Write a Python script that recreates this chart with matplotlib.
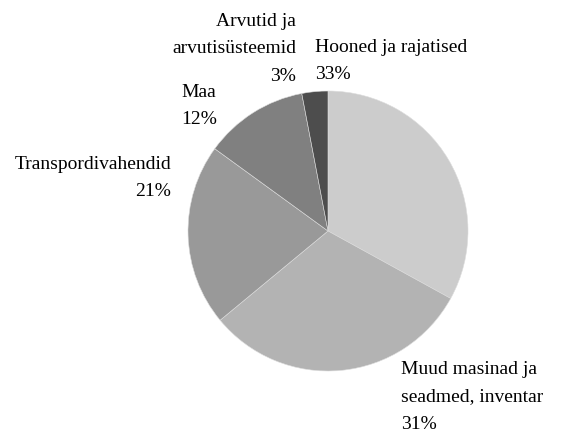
import matplotlib
matplotlib.use("Agg")
import matplotlib.pyplot as plt

categories = ["Hooned ja rajatised", "Muud masinad ja\nseadmed, inventar", "Transpordivahendid", "Maa", "Arvutid ja\narvutisüsteemid"]
values = [33, 31, 21, 12, 3]
colors = ["#cccccc", "#b3b3b3", "#999999", "#808080", "#4d4d4d"]

W, H = 564, 433
fig = plt.figure(figsize=(W / 100, H / 100), dpi=100)
cx, cy, r = 328, 231, 140
ax = fig.add_axes([(cx - r) / W, (H - cy - r) / H, 2 * r / W, 2 * r / H])
ax.pie(values, colors=colors, startangle=90, counterclock=False, radius=1,
       wedgeprops=dict(edgecolor="#dddddd", linewidth=0.4))
ax.set_xlim(-1, 1)
ax.set_ylim(-1, 1)
ax.set_aspect("equal")
ax.axis("off")

# label anchor positions in pixels (x, y top, horizontal alignment)
label_pos = [(315, 39, "left"), (401, 361, "left"), (171, 156, "right"), (181, 84, "left"), (296, 13, "right")]
for cat, val, (x, y, ha) in zip(categories, values, label_pos):
    fig.text(x / W, 1 - y / H, f"{cat}\n{val}%", ha=ha, va="top", multialignment=ha,
             fontsize=14, family="Liberation Serif", linespacing=1.8, color="#000000")

fig.savefig("out.png", dpi=100)
